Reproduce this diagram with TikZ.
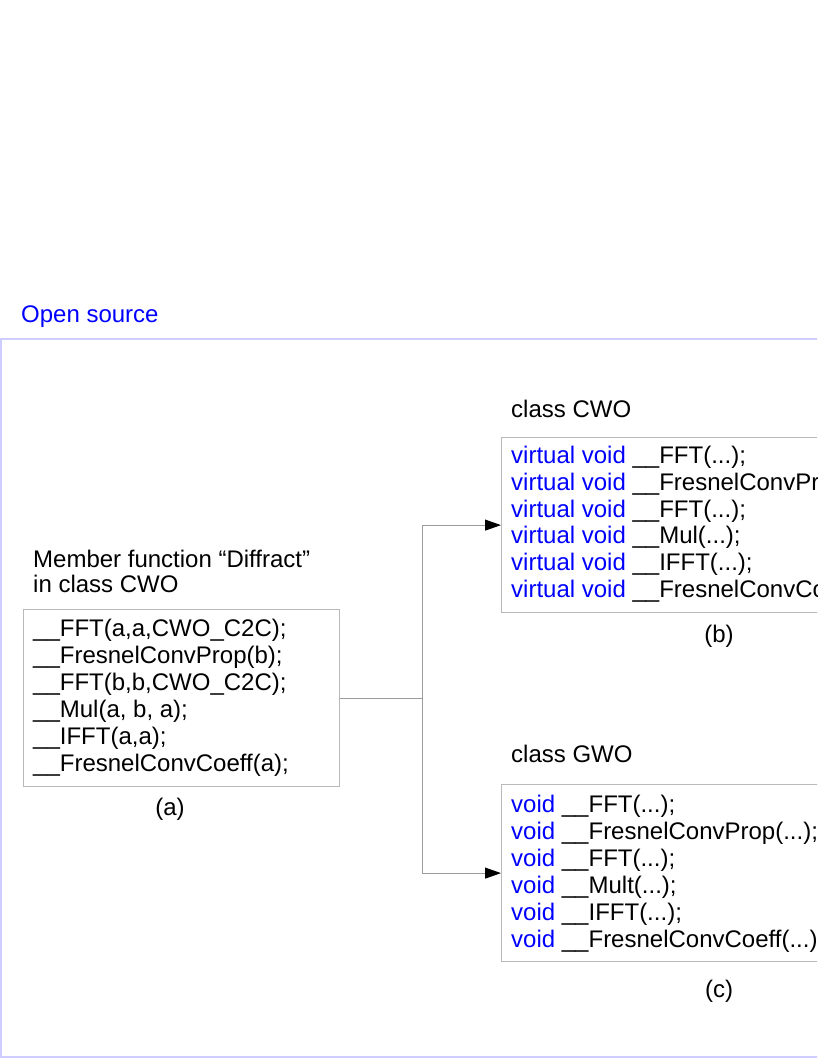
\documentclass[tikz,border=0pt]{standalone}
\usepackage{fontspec}
\setmainfont{Liberation Sans}
\usetikzlibrary{arrows.meta}
\definecolor{frameblue}{RGB}{205,205,255}
\definecolor{boxgray}{RGB}{185,185,185}
\definecolor{conngray}{RGB}{155,155,155}
\definecolor{kw}{RGB}{0,0,255}
\newcommand{\kwd}[1]{\textcolor{kw}{#1}}
\begin{document}
\begin{tikzpicture}[x=1pt,y=-1pt,
  txt/.style={anchor=base west, inner sep=0pt, font=\fontsize{24}{27}\selectfont},
  lbl/.style={anchor=base, inner sep=0pt, font=\fontsize{24}{27}\selectfont},
  box/.style={draw=boxgray, line width=1.2pt, anchor=north west, inner sep=0pt, fill=white},
  conn/.style={draw=conngray, line width=1pt},
  tip/.style={-{Triangle[length=16pt,width=11pt,color=black]}}
]
\useasboundingbox (0,0) rectangle (817,1058);
\clip (0,0) rectangle (817,1058);
\fill[white] (0,0) rectangle (817,1058);

% outer frame
\draw[frameblue, line width=1.5pt] (0.75,339) rectangle (950,1057);
\node[txt, text=kw] (open) at (21,322) {Open source};

% box (a)
\node[txt] (ma) at (33,567) {Member function “Diffract”};
\node[txt] (mb) at (33,592) {in class CWO};
\node[box, minimum width=316pt, minimum height=177pt] (a) at (23,609) {};
\node[txt] (a1) at (33,636) {\_\_FFT(a,a,CWO\_C2C);};
\node[txt] (a2) at (33,663) {\_\_FresnelConvProp(b);};
\node[txt] (a3) at (33,690) {\_\_FFT(b,b,CWO\_C2C);};
\node[txt] (a4) at (33,717) {\_\_Mul(a, b, a);};
\node[txt] (a5) at (33,744) {\_\_IFFT(a,a);};
\node[txt] (a6) at (33,771) {\_\_FresnelConvCoeff(a);};
\node[lbl] (la) at (170,815) {(a)};

% box (b)
\node[txt] (tb) at (511,417) {class CWO};
\node[box, minimum width=380pt, minimum height=175pt] (b) at (501,437) {};
\node[txt] (b1) at (511,463) {\kwd{virtual void} \_\_FFT(...);};
\node[txt] (b2) at (511,490) {\kwd{virtual void} \_\_FresnelConvProp(...);};
\node[txt] (b3) at (511,517) {\kwd{virtual void} \_\_FFT(...);};
\node[txt] (b4) at (511,543) {\kwd{virtual void} \_\_Mul(...);};
\node[txt] (b5) at (511,570) {\kwd{virtual void} \_\_IFFT(...);};
\node[txt] (b6) at (511,597) {\kwd{virtual void} \_\_FresnelConvCoeff(...);};
\node[lbl] (lb) at (719,642) {(b)};

% box (c)
\node[txt] (tc) at (511,762) {class GWO};
\node[box, minimum width=330pt, minimum height=177pt] (c) at (501,784) {};
\node[txt] (c1) at (511,812) {\kwd{void} \_\_FFT(...);};
\node[txt] (c2) at (511,839) {\kwd{void} \_\_FresnelConvProp(...);};
\node[txt] (c3) at (511,866) {\kwd{void} \_\_FFT(...);};
\node[txt] (c4) at (511,893) {\kwd{void} \_\_Mult(...);};
\node[txt] (c5) at (511,920) {\kwd{void} \_\_IFFT(...);};
\node[txt] (c6) at (511,947) {\kwd{void} \_\_FresnelConvCoeff(...);};
\node[lbl] (lc) at (719,997) {(c)};

% connectors
\draw[conn] (a.east) -- ++(82,0) coordinate (j);
\draw[conn, tip] (j) |- (b.west);
\draw[conn, tip] (j) |- (c.west);
\end{tikzpicture}
\end{document}
